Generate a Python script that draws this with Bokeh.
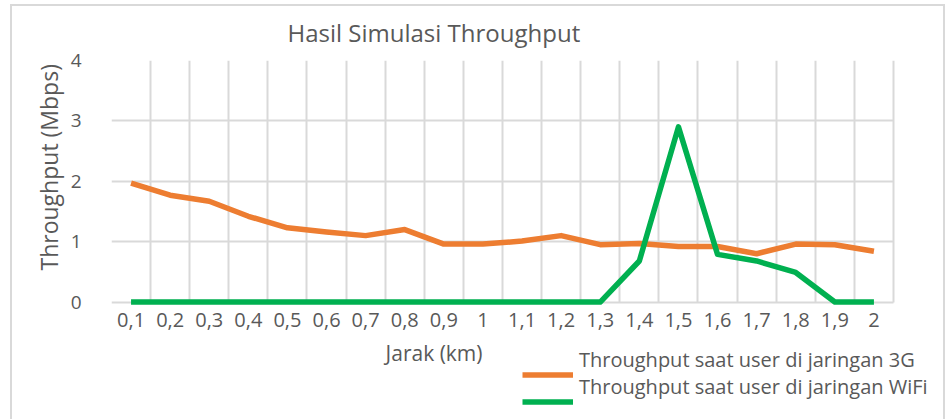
from bokeh.plotting import figure
from bokeh.models import FixedTicker, Range1d, Legend, LegendItem, Title, Label, Grid
from bokeh.embed import file_html
from bokeh.resources import INLINE

# ---- data ----
dist = [0.1, 0.2, 0.3, 0.4, 0.5, 0.6, 0.7, 0.8, 0.9, 1.0,
        1.1, 1.2, 1.3, 1.4, 1.5, 1.6, 1.7, 1.8, 1.9, 2.0]
tick_labels = ["0,1", "0,2", "0,3", "0,4", "0,5", "0,6", "0,7", "0,8", "0,9", "1",
               "1,1", "1,2", "1,3", "1,4", "1,5", "1,6", "1,7", "1,8", "1,9", "2"]
tp_3g = [1.97, 1.77, 1.67, 1.42, 1.23, 1.16, 1.10, 1.20, 0.96, 0.96,
         1.01, 1.10, 0.95, 0.97, 0.92, 0.92, 0.80, 0.96, 0.95, 0.84]
tp_wifi = [0, 0, 0, 0, 0, 0, 0, 0, 0, 0,
           0, 0, 0, 0.68, 2.90, 0.79, 0.68, 0.49, 0, 0]
y_ticks = [0, 1, 2, 3, 4]
series_names = ["Throughput saat user di jaringan 3G",
                "Throughput saat user di jaringan WiFi"]

FONT = "Open Sans"
TXT = "#595959"
GRID = "#D9D9D9"
ORANGE = "#ED7D31"
GREEN = "#00B050"

half = 0.05
x_lo = round(dist[0] - half, 2)
x_hi = round(dist[-1] + half, 2)
boundaries = [round(d - half, 2) for d in dist] + [x_hi]

# the frame reaches the right and bottom edges of the canvas so that the
# legend and axis title, drawn inside it, are not clipped; grid lines are
# bounded to the real plotting area
p = figure(width=946, height=419, output_backend="svg", toolbar_location=None,
           x_range=Range1d(x_lo, 2.1856), y_range=Range1d(-1.945, y_ticks[-1]),
           min_border_left=111, min_border_right=0,
           min_border_top=60, min_border_bottom=0)
p.outline_line_color = None
p.background_fill_color = None
p.border_fill_color = None
line_bg = "linear-gradient(#D9D9D9,#D9D9D9)"
p.styles = {"background": (f"{line_bg} 10px 4px / 935px 2px no-repeat, "
                           f"{line_bg} 10px 4px / 2px 430px no-repeat, "
                           f"{line_bg} 943px 4px / 2px 430px no-repeat, white")}

# title
p.title.text = "Hasil Simulasi Throughput"
p.title.text_font = FONT
p.title.text_font_size = "24px"
p.title.text_font_style = "normal"
p.title.text_color = TXT
p.title.align = "left"
p.title.offset = 176
p.title.standoff = 24

# grids
p.xgrid.ticker = FixedTicker(ticks=boundaries)
p.ygrid.ticker = FixedTicker(ticks=y_ticks)
if "cross_bounds" in Grid.properties():
    p.xgrid.cross_bounds = (y_ticks[0], y_ticks[-1])
    p.ygrid.cross_bounds = (x_lo, x_hi)
for g in (p.xgrid, p.ygrid):
    g.grid_line_color = GRID
    g.grid_line_width = 2

# axes
p.xaxis.fixed_location = 0
p.xaxis.ticker = FixedTicker(ticks=dist)
p.xaxis.major_label_overrides = {d: l for d, l in zip(dist, tick_labels)}
p.yaxis.ticker = FixedTicker(ticks=y_ticks)
for ax in (p.xaxis, p.yaxis):
    ax.axis_line_color = None
    ax.major_tick_line_color = None
    ax.minor_tick_line_color = None
    ax.major_label_text_font = FONT
    ax.major_label_text_color = TXT
p.xaxis.major_label_text_font_size = "20px"
p.yaxis.major_label_text_font_size = "19px"
p.xaxis.major_label_standoff = 5
p.yaxis.major_label_standoff = 24

# y axis title as a side-panel title (placed like the original)
ylab = Title(text="Throughput (Mbps)", align="left", offset=149, standoff=5,
             text_font=FONT, text_font_size="23px", text_font_style="normal",
             text_color=TXT)
p.add_layout(ylab, "left")

# x axis title
xlab = Label(x=0.751, y=-0.84, text="Jarak (km)", text_font=FONT,
             text_font_size="21px", text_color=TXT, text_baseline="alphabetic",
             text_align="left")
p.add_layout(xlab)

# series
r1 = p.line(dist, tp_3g, line_width=5.5, line_color=ORANGE, line_join="round")
r2 = p.line(dist, tp_wifi, line_width=5.5, line_color=GREEN, line_join="round")


def style_legend(lg):
    lg.spacing = 0
    lg.padding = 0
    lg.margin = 0
    lg.border_line_color = None
    lg.background_fill_alpha = 0
    lg.label_text_font = FONT
    lg.label_text_font_size = "20px"
    lg.label_text_color = TXT
    lg.glyph_height = 27
    lg.label_height = 27


# legend swatches (the original shows its texts a little above its swatches)
leg_glyphs = Legend(items=[LegendItem(label=" ", renderers=[r1]),
                           LegendItem(label=" ", renderers=[r2])],
                    location=(411, 4.5), orientation="vertical")
style_legend(leg_glyphs)
leg_glyphs.glyph_width = 51
leg_glyphs.label_standoff = 0
leg_glyphs.label_width = 0
p.add_layout(leg_glyphs)

# legend texts
leg_texts = Legend(items=[LegendItem(label=series_names[0], renderers=[r1]),
                          LegendItem(label=series_names[1], renderers=[r2])],
                   location=(468, 18.8), orientation="vertical")
style_legend(leg_texts)
leg_texts.glyph_width = 0
leg_texts.label_standoff = 0
p.add_layout(leg_texts)

open("out.html", "w").write(file_html(p, INLINE))
